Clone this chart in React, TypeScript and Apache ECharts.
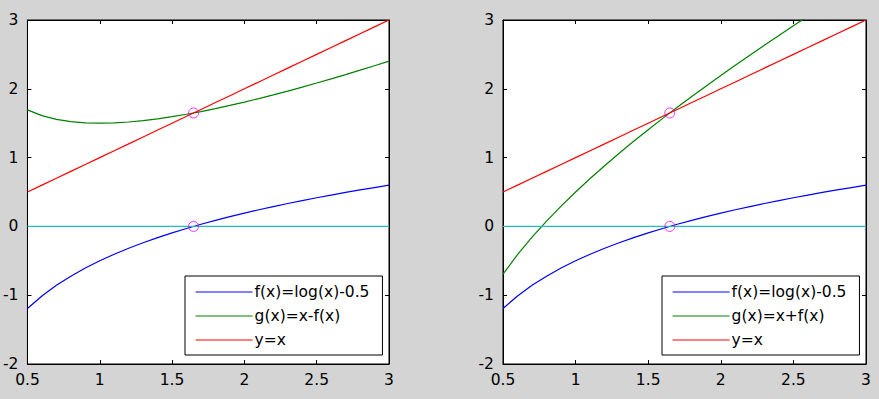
import React, { useEffect, useRef } from "react";
import * as echarts from "echarts";

const xs = [0.5, 0.6, 0.7, 0.8, 0.9, 1.0, 1.1, 1.2, 1.3, 1.4, 1.5, 1.6, 1.7, 1.8, 1.9, 2.0, 2.1, 2.2, 2.3, 2.4, 2.5, 2.6, 2.7, 2.8, 2.9, 3.0];
const fVals = [-1.1931, -1.0108, -0.8567, -0.7231, -0.6054, -0.5, -0.4047, -0.3177, -0.2376, -0.1635, -0.0945, -0.03, 0.0306, 0.0878, 0.1419, 0.1931, 0.2419, 0.2885, 0.3329, 0.3755, 0.4163, 0.4555, 0.4933, 0.5296, 0.5647, 0.5986];
const gMinusVals = [1.6931, 1.6108, 1.5567, 1.5231, 1.5054, 1.5, 1.5047, 1.5177, 1.5376, 1.5635, 1.5945, 1.63, 1.6694, 1.7122, 1.7581, 1.8069, 1.8581, 1.9115, 1.9671, 2.0245, 2.0837, 2.1445, 2.2067, 2.2704, 2.3353, 2.4014];
const gPlusVals = [-0.6931, -0.4108, -0.1567, 0.0769, 0.2946, 0.5, 0.6953, 0.8823, 1.0624, 1.2365, 1.4055, 1.57, 1.7306, 1.8878, 2.0419, 2.1931, 2.3419, 2.4885, 2.6329, 2.7755, 2.9163, 3.0555, 3.1933, 3.3296, 3.4647, 3.5986];
const idVals = [0.5, 0.6, 0.7, 0.8, 0.9, 1.0, 1.1, 1.2, 1.3, 1.4, 1.5, 1.6, 1.7, 1.8, 1.9, 2.0, 2.1, 2.2, 2.3, 2.4, 2.5, 2.6, 2.7, 2.8, 2.9, 3.0];
const zeroLineX = [0.5, 3];
const zeroLineY = [0, 0];
const fixedX = 1.6487;
const fixedY = [1.6487, 0];

const names = {
  f: "f(x)=log(x)-0.5",
  gMinus: "g(x)=x-f(x)",
  gPlus: "g(x)=x+f(x)",
  id: "y=x",
};

const FONT = "DejaVu Sans";

const pairs = (x: number[], y: number[]) => x.map((v, i) => [v, y[i]]);

export default function App() {
  const ref = useRef<HTMLDivElement>(null);
  useEffect(() => {
    if (!ref.current) return;
    const chart = echarts.init(ref.current, undefined, { renderer: "svg" });
    const grids = [
      { left: 26, top: 20, width: 363, height: 344 },
      { left: 503, top: 20, width: 363, height: 344 },
    ];
    const xAxes: any[] = [];
    const yAxes: any[] = [];
    grids.forEach((_, gi) => {
      const baseX = {
        type: "value",
        gridIndex: gi,
        min: 0.5,
        max: 3,
        interval: 0.5,
        axisLine: { show: true, onZero: false, lineStyle: { color: "#000", width: 1 } },
        axisTick: { show: true, inside: true, length: 4, lineStyle: { color: "#000" } },
        splitLine: { show: false },
      };
      xAxes.push({
        ...baseX,
        position: "bottom",
        axisLabel: { show: true, color: "#000", fontFamily: FONT, fontSize: 15.5, margin: 8 },
      });
      xAxes.push({ ...baseX, position: "top", axisLabel: { show: false } });
      const baseY = {
        type: "value",
        gridIndex: gi,
        min: -2,
        max: 3,
        interval: 1,
        axisLine: { show: true, onZero: false, lineStyle: { color: "#000", width: 1 } },
        axisTick: { show: true, inside: true, length: 4, lineStyle: { color: "#000" } },
        splitLine: { show: false },
      };
      yAxes.push({
        ...baseY,
        position: "left",
        axisLabel: { show: true, color: "#000", fontFamily: FONT, fontSize: 15.5, margin: 9 },
      });
      yAxes.push({ ...baseY, position: "right", axisLabel: { show: false } });
    });

    const lineSeries = (name: string, data: number[][], color: string, gi: number) => ({
      type: "line",
      name,
      data,
      xAxisIndex: gi * 2,
      yAxisIndex: gi * 2,
      symbol: "none",
      clip: true,
      lineStyle: { color, width: 1.2 },
      itemStyle: { color },
    });

    const series: any[] = [];
    [0, 1].forEach((gi) => {
      series.push(lineSeries(names.f, pairs(xs, fVals), "#0000ff", gi));
      series.push(
        lineSeries(gi === 0 ? names.gMinus : names.gPlus, pairs(xs, gi === 0 ? gMinusVals : gPlusVals), "#008000", gi)
      );
      series.push(lineSeries(names.id, pairs(xs, idVals), "#ff0000", gi));
      series.push({
        ...lineSeries("zero" + gi, pairs(zeroLineX, zeroLineY), "#20c0c0", gi),
      });
      series.push({
        type: "scatter",
        name: "fixed" + gi,
        xAxisIndex: gi * 2,
        yAxisIndex: gi * 2,
        data: fixedY.map((y) => [fixedX, y]),
        symbol: "circle",
        symbolSize: 10,
        itemStyle: { color: "rgba(0,0,0,0)", borderColor: "#f000f0", borderWidth: 1 },
        z: 5,
      });
    });

    const legendBase = {
      orient: "vertical",
      top: 276,
      itemWidth: 57,
      itemHeight: 14,
      itemGap: 8,
      padding: [8, 13, 7, 10],
      borderColor: "#000",
      borderWidth: 1,
      backgroundColor: "#fff",
      borderRadius: 0,
      selectedMode: false,
      itemStyle: { opacity: 0 },
      lineStyle: { width: 1.2 },
      textStyle: { color: "#000", fontFamily: FONT, fontSize: 15.5, padding: [0, 0, 0, -3] },
    };

    chart.setOption({
      animation: false,
      backgroundColor: "#d4d4d4",
      grid: grids.map((g) => ({
        ...g,
        show: true,
        backgroundColor: "#fff",
        borderColor: "#000",
        borderWidth: 1,
        containLabel: false,
      })),
      xAxis: xAxes,
      yAxis: yAxes,
      legend: [
        { ...legendBase, left: 185, data: [names.f, names.gMinus, names.id] },
        { ...legendBase, left: 662, data: [names.f, names.gPlus, names.id] },
      ],
      series,
    });
    return () => chart.dispose();
  }, []);
  return (
    <div
      ref={ref}
      style={{ position: "absolute", left: 0, top: 0, width: 879, height: 399 }}
    />
  );
}
